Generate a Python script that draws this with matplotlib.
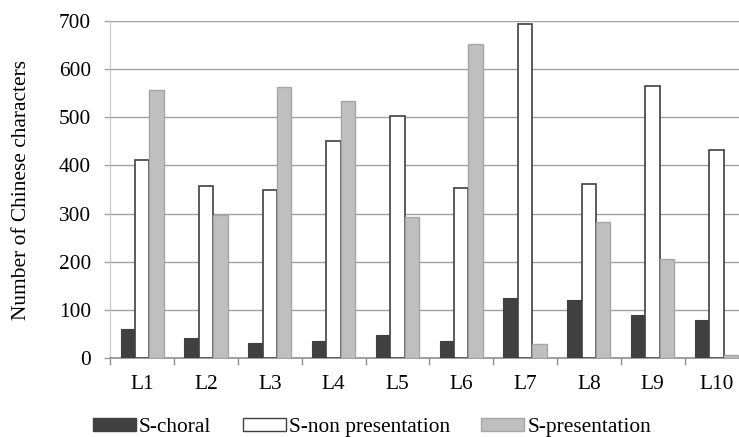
import numpy as np
import matplotlib.pyplot as plt
from matplotlib.patches import Patch

plt.rcParams['font.family'] = ['Liberation Serif', 'DejaVu Serif']

levels = ["L1", "L2", "L3", "L4", "L5", "L6", "L7", "L8", "L9", "L10"]
s_choral = [60, 42, 31, 35, 49, 35, 125, 121, 90, 79]
s_non_presentation = [411, 358, 349, 451, 503, 354, 694, 362, 565, 432]
s_presentation = [557, 297, 563, 534, 294, 652, 30, 283, 205, 7]
y_ticks = [0, 100, 200, 300, 400, 500, 600, 700]

fs = 15.4

fig = plt.figure(figsize=(7.39, 4.37), dpi=100)
ax = fig.add_axes([110.3 / 739, 78.7 / 437, 638 / 739, 337.6 / 437])

x = np.arange(len(levels))
w = 0.226
ax.bar(x - w, s_choral, w, color='#404040', edgecolor='#404040', lw=0.8, zorder=3)
ax.bar(x, s_non_presentation, w, color='white', edgecolor='#404040', lw=1.2, zorder=3)
ax.bar(x + w, s_presentation, w, color='#bfbfbf', edgecolor='#a6a6a6', lw=1.0, zorder=3)

ax.set_xlim(-0.5, len(levels) - 0.5)
ax.set_ylim(0, 700)
ax.set_yticks(y_ticks)
ax.yaxis.grid(True, color='#a0a0a0', lw=1.0, zorder=0)

ax.set_xticks(x)
ax.set_xticklabels(levels)
ax.set_xticks(np.arange(-0.5, len(levels), 1.0), minor=True)
ax.tick_params(axis='x', which='major', length=0, pad=12, labelsize=fs)
ax.tick_params(axis='x', which='minor', length=5, color='#909090', width=1.0)
ax.tick_params(axis='y', length=4.3, color='#a0a0a0', width=1.0, pad=9.5, labelsize=fs)

for side in ['top', 'right']:
    ax.spines[side].set_visible(False)
ax.spines['left'].set_color('#c8c8c8')
ax.spines['bottom'].set_color('#909090')
ax.spines['bottom'].set_linewidth(1.2)

ax.set_ylabel("Number of Chinese characters", fontsize=fs, labelpad=20)

handles = [Patch(facecolor='#404040', edgecolor='#404040'),
           Patch(facecolor='white', edgecolor='#404040'),
           Patch(facecolor='#bfbfbf', edgecolor='#a6a6a6')]
fig.legend(handles, ["S-choral", "S-non presentation", "S-presentation"],
           loc='center left', bbox_to_anchor=(93 / 739, 1 - 427.5 / 437), ncol=3,
           frameon=False, fontsize=fs, handlelength=2.0, handleheight=0.56,
           handletextpad=0.14, columnspacing=1.48, borderaxespad=0, borderpad=0)

fig.savefig("out.png", dpi=100)
